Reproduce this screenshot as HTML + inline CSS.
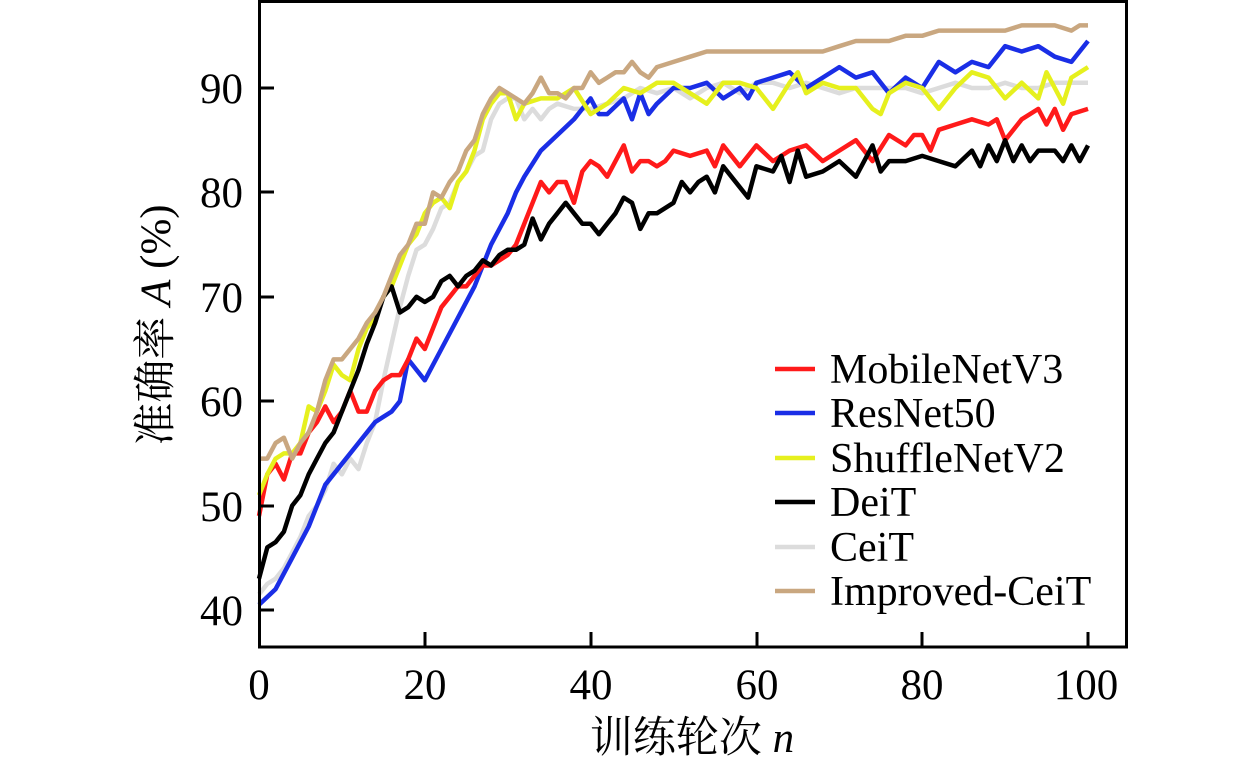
<!DOCTYPE html>
<html><head><meta charset="utf-8"><style>
html,body{margin:0;padding:0;background:#fff;}
svg{display:block;}
text{font-family:"Liberation Serif","Noto Serif CJK SC",serif;fill:#000;}
</style></head><body>
<svg id="s" width="1260" height="764" viewBox="0 0 1260 764" xmlns="http://www.w3.org/2000/svg">
<g id="series" fill="none" stroke-width="4.5" stroke-linejoin="round"></g>
<rect x="259.5" y="1.5" width="867" height="645.5" fill="none" stroke="#000" stroke-width="3"/>
<g stroke="#000" stroke-width="3">
<line x1="259" y1="610" x2="274" y2="610"/><line x1="259" y1="506" x2="274" y2="506"/>
<line x1="259" y1="401" x2="274" y2="401"/><line x1="259" y1="297" x2="274" y2="297"/>
<line x1="259" y1="192" x2="274" y2="192"/><line x1="259" y1="88" x2="274" y2="88"/>
<line x1="425" y1="647" x2="425" y2="632"/><line x1="591" y1="647" x2="591" y2="632"/>
<line x1="757" y1="647" x2="757" y2="632"/><line x1="922" y1="647" x2="922" y2="632"/>
<line x1="1088" y1="647" x2="1088" y2="632"/>
</g>
<g font-size="43" text-anchor="end">
<text x="243" y="625">40</text><text x="243" y="521">50</text><text x="243" y="416">60</text>
<text x="243" y="312">70</text><text x="243" y="207">80</text><text x="243" y="103">90</text>
</g>
<g font-size="43" text-anchor="middle">
<text x="259" y="699">0</text><text x="425" y="699">20</text><text x="591" y="699">40</text>
<text x="757" y="699">60</text><text x="922" y="699">80</text><text x="1086" y="699">100</text>
</g>
<text x="692" y="752" font-size="43" text-anchor="middle">训练轮次 <tspan font-style="italic">n</tspan></text>
<text transform="translate(170,325) rotate(-90)" font-size="43" text-anchor="middle">准确率 <tspan font-style="italic">A</tspan> (%)</text>
<g stroke-width="4.5">
<line x1="775" y1="369" x2="815" y2="369" stroke="#ff1a1a"/>
<line x1="775" y1="413" x2="815" y2="413" stroke="#1a2ee6"/>
<line x1="775" y1="458" x2="815" y2="458" stroke="#e6f01e"/>
<line x1="775" y1="502" x2="815" y2="502" stroke="#000"/>
<line x1="775" y1="547" x2="815" y2="547" stroke="#dcdcdc"/>
<line x1="775" y1="591" x2="815" y2="591" stroke="#c9a780"/>
</g>
<g font-size="42">
<text x="830" y="383">MobileNetV3</text><text x="830" y="427">ResNet50</text>
<text x="830" y="472">ShuffleNetV2</text><text x="830" y="516">DeiT</text>
<text x="830" y="561">CeiT</text><text x="830" y="605">Improved-CeiT</text>
</g>
</svg>
<script>
var D={
gray:["#dcdcdc","0:41.5,1:42.5,2:43,3:44,4:45.5,5:47,6:49,7:50,8:51.5,9:54,10:53,11:54.5,12:53.5,13:56,14:58,15:62,16:65.5,17:69,18:72,19:74.5,20:75,21:76.5,22:78.5,23:79,24:81,25:82,26:83.5,27:84,28:87,29:88.5,30:89,31:89,32:87,33:88,34:87,35:88,36:88.5,38:88,40:88,42:88.5,44:89,46:90,48:89.5,50:90,52:89,54:90,56:90.5,58:89.5,60:90.5,62:90.5,64:90,66:90.5,68:90,70:89.5,72:90,74:90,76:90,78:90,80:89.5,82:90,84:90.5,86:90,88:90,90:90.5,92:90,94:90,96:90.5,98:90.5,100:90.5"],
blue:["#1a2ee6","0:40.5,2:42,4:45,6:48,8:52,10:54,12:56,14:58,16:59,17:60,18:64,19:63,20:62,22:65,24:68,26:71,28:75,30:78,31:80,32:81.5,34:84,36:85.5,38:87,40:89,41:87.5,42:87.5,44:89,45:87,46:89.5,47:87.5,48:88.5,50:90,52:90,54:90.5,56:89,58:90,59:89,60:90.5,62:91,64:91.5,66:90,68:91,70:92,72:91,74:91.5,76:89.5,78:91,80:90,82:92.5,84:91.5,86:92.5,88:92,90:94,92:93.5,94:94,96:93,98:92.5,100:94.5"],
red:["#ff1a1a","0:49,1:53,2:54,3:52.5,4:55,5:55,6:57,7:58,8:59.5,9:58,10:59,11:61,12:59,13:59,14:61,15:62,16:62.5,17:62.5,18:64,19:66,20:65,21:67,22:69,23:70,24:71,25:71,26:72,27:73,28:73,29:73.5,30:74,31:75,32:77,33:79,34:81,35:80,36:81,37:81,38:79,39:82,40:83,41:82.5,42:81.5,43:83,44:84.5,45:82,46:83,47:83,48:82.5,49:83,50:84,52:83.5,54:84,55:82.5,56:84.5,58:82.5,60:84.5,62:83,64:84,66:84.5,68:83,70:84,72:85,74:83,76:85.5,78:84.5,79:85.5,80:85.5,81:84,82:86,84:86.5,86:87,88:86.5,89:87,90:85,92:87,94:88,95:86.5,96:88,97:86,98:87.5,100:88"],
yellow:["#e6f01e","0:51,1:53,2:54.5,3:55,4:55,5:56,6:59.5,7:59,8:61,9:63.5,10:62.5,11:62,12:65,13:67,14:68,15:70,16:71,17:73,18:75,19:76,20:78,21:79,22:79.5,23:78.5,24:81,25:82,26:84,27:87,28:88.5,29:89.5,30:89.5,31:87,32:88.5,34:89,36:89,38:90,40:87.5,42:88.5,44:90,46:89.5,48:90.5,50:90.5,52:89.5,54:88.5,56:90.5,58:90.5,60:90,62:88,64:90.5,65:91.5,66:89.5,68:90.5,70:90,72:90,74:88,75:87.5,76:89.5,78:90.5,80:90,82:88,84:90,86:91.5,88:91,90:89,92:90.5,94:89,95:91.5,96:90,97:88.5,98:91,100:92"],
black:["#000","0:43,1:46,2:46.5,3:47.5,4:50,5:51,6:53,7:54.5,8:56,9:57,10:59,11:61,12:63,13:65.5,14:67.5,15:70,16:71,17:68.5,18:69,19:70,20:69.5,21:70,22:71.5,23:72,24:71,25:72,26:72.5,27:73.5,28:73,29:74,30:74.5,31:74.5,32:75,33:77.5,34:75.5,35:77,36:78,37:79,38:78,39:77,40:77,41:76,42:77,43:78,44:79.5,45:79,46:76.5,47:78,48:78,50:79,51:81,52:80,53:81,54:81.5,55:80,56:82.5,58:80.5,59:79.5,60:82.5,62:82,63:83.5,64:81,65:84,66:81.5,68:82,70:83,72:81.5,73:83,74:84.5,75:82,76:83,78:83,80:83.5,82:83,84:82.5,86:84,87:82.5,88:84.5,89:83,90:85,91:83,92:84.5,93:83,94:84,96:84,97:83,98:84.5,99:83,100:84.5"],
tan:["#c9a780","0:54.5,1:54.5,2:56,3:56.5,4:54.5,5:56,6:57,7:59,8:62,9:64,10:64,11:65,12:66,13:67.5,14:68.5,15:70,16:72,17:74,18:75,19:77,20:77,21:80,22:79.5,23:81,24:82,25:84,26:85,27:87.5,28:89,29:90,30:89.5,31:89,32:88.5,33:89.5,34:91,35:89.5,36:89.5,37:89,38:90,39:90,40:91.5,41:90.5,42:91,43:91.5,44:91.5,45:92.5,46:91.5,47:91,48:92,50:92.5,52:93,54:93.5,56:93.5,58:93.5,60:93.5,62:93.5,64:93.5,66:93.5,68:93.5,70:94,72:94.5,74:94.5,76:94.5,78:95,80:95,82:95.5,84:95.5,86:95.5,88:95.5,90:95.5,92:96,94:96,96:96,98:95.5,99:96,100:96"]};
var g=document.getElementById("series"),ns="http://www.w3.org/2000/svg";
["gray","blue","red","yellow","black","tan"].forEach(function(k){
var pts=D[k][1].split(",").map(function(p){var a=p.split(":");return (259+a[0]*8.29).toFixed(1)+","+(610-(a[1]-40)*10.44).toFixed(1);}).join(" ");
var pl=document.createElementNS(ns,"polyline");pl.setAttribute("points",pts);pl.setAttribute("stroke",D[k][0]);g.appendChild(pl);});
</script>
</body></html>
